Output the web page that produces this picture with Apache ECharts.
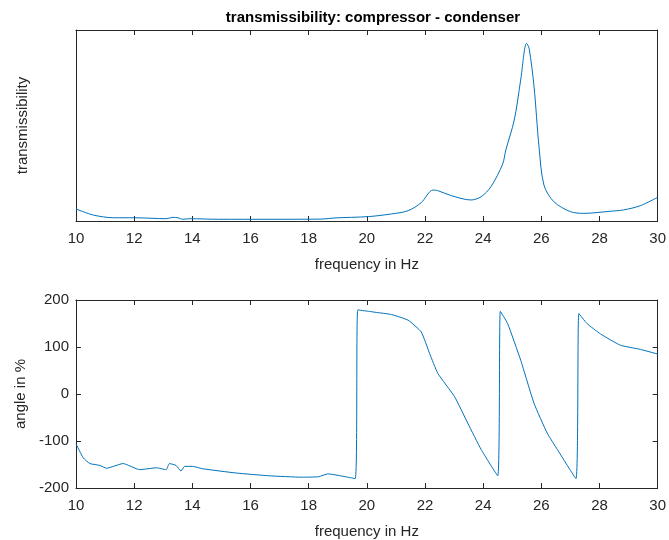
<!DOCTYPE html>
<html>
<head>
<meta charset="utf-8">
<script src="https://cdn.jsdelivr.net/npm/echarts@6/dist/echarts.min.js"></script>
<style>
  html, body { margin: 0; padding: 0; background: #fff; }
  #chart { width: 669px; height: 540px; }
</style>
</head>
<body>
<div id="chart"></div>
<script>
// frequency axis ticks
var freqTicks = [10, 12, 14, 16, 18, 20, 22, 24, 26, 28, 30];
var angleTicks = [-200, -100, 0, 100, 200];

// top: transmissibility (arbitrary units, no y labels)
var freqTop = [10, 10.6, 11.3, 12.0, 13.1, 13.33, 13.5, 13.67, 13.9, 14.9, 16.6, 18.45, 18.9, 20.05,
  20.85, 21.42, 21.87, 22.27, 22.44, 22.9, 23.58, 23.93, 24.27, 24.67, 24.78, 25.07, 25.29, 25.49,
  25.58, 25.75, 25.92, 26.09, 26.43, 27.0, 27.46, 28.37, 28.83, 29.4, 30];
var transTop = [6.3, 3.1, 1.7, 1.7, 1.2, 1.9, 1.7, 0.9, 1.2, 0.9, 0.9, 1.0, 1.6, 2.3,
  3.7, 5.4, 9.6, 16.2, 15.9, 13.3, 11.0, 12.7, 18.0, 29.8, 37.2, 52.9, 73.8, 93.0,
  90.4, 70.3, 38.9, 18.8, 10.1, 4.9, 4.0, 5.1, 5.8, 8.0, 12.4];

// bottom: angle
var freqBot = [10, 10.25, 10.48, 10.82, 11.05, 11.62, 12.19, 12.76, 13.1, 13.21, 13.44, 13.61, 13.73,
  14.01, 14.35, 15.49, 16.63, 17.77, 18.34, 18.66, 19.6, 19.69, 20.05, 20.28, 20.85, 21.42, 21.87,
  22.16, 22.44, 23.02, 23.47, 23.93, 24.5, 24.59, 24.84, 25.29, 25.75, 26.2, 26.55, 27.19, 27.29,
  27.57, 28.03, 28.71, 29.4, 30];
var angleBot = [-106, -136, -148, -152, -158, -148, -161, -157, -161, -148, -152, -164, -154,
  -154, -159, -168, -174, -177, -176, -170, -180, 179, 176, 174, 169, 157, 132,
  86, 44, -6, -62, -118, -174, 176, 150, 72, -20, -83, -118, -180, 171,
  150, 128, 104, 95, 85];

function pairs(xs, ys) {
  return xs.map(function (x, i) { return [x, ys[i]]; });
}

var axisCol = '#262626';
var lineCol = '#0072BD';
var fontFam = 'Liberation Sans, Arial, sans-serif';

function xAx(gi, withLabels) {
  return {
    type: 'value', gridIndex: gi, min: 10, max: 30, interval: 2,
    position: withLabels ? 'bottom' : 'top',
    name: withLabels ? 'frequency in Hz' : '',
    nameLocation: 'middle', nameGap: 36,
    nameTextStyle: { color: axisCol, fontSize: 15, fontFamily: fontFam },
    axisLine: { show: true, onZero: false, lineStyle: { color: axisCol, width: 1 } },
    axisTick: { show: true, inside: true, length: 5, lineStyle: { color: axisCol } },
    axisLabel: { show: withLabels, color: axisCol, fontSize: 15, margin: 10, fontFamily: fontFam },
    splitLine: { show: false }
  };
}

function yAx(gi, left, opts) {
  var ax = {
    type: 'value', gridIndex: gi, position: left ? 'left' : 'right',
    axisLine: { show: true, onZero: false, lineStyle: { color: axisCol } },
    axisTick: { show: false },
    axisLabel: { show: false },
    splitLine: { show: false }
  };
  for (var k in opts) ax[k] = opts[k];
  return ax;
}

var yTicks = { show: true, inside: true, length: 5, lineStyle: { color: axisCol } };
var yName = { color: axisCol, fontSize: 15, fontFamily: fontFam };

var option = {
  animation: false,
  backgroundColor: '#fff',
  title: {
    text: 'transmissibility: compressor - condenser',
    left: 368, top: 5, textAlign: 'center',
    textStyle: { color: '#000', fontSize: 15, fontWeight: 'bold', fontFamily: fontFam }
  },
  grid: [
    { left: 76, right: 8, top: 30, height: 191 },
    { left: 76, right: 8, top: 300, height: 189 }
  ],
  xAxis: [xAx(0, true), xAx(0, false), xAx(1, true), xAx(1, false)],
  yAxis: [
    yAx(0, true, { min: 0, max: 100, name: 'transmissibility', nameLocation: 'middle', nameGap: 46, nameTextStyle: yName }),
    yAx(0, false, { min: 0, max: 100 }),
    yAx(1, true, {
      min: -200, max: 200, interval: 100, name: 'angle in %', nameLocation: 'middle', nameGap: 36,
      nameTextStyle: yName, axisTick: yTicks,
      axisLabel: { color: axisCol, fontSize: 15, margin: 7, fontFamily: fontFam }
    }),
    yAx(1, false, { min: -200, max: 200, interval: 100, axisTick: yTicks })
  ],
  series: [
    {
      type: 'line', xAxisIndex: 0, yAxisIndex: 0, data: pairs(freqTop, transTop),
      showSymbol: false, smooth: 0.3, lineStyle: { color: lineCol, width: 1 }
    },
    {
      type: 'line', xAxisIndex: 2, yAxisIndex: 2, data: pairs(freqBot, angleBot),
      showSymbol: false, smooth: 0.15, lineStyle: { color: lineCol, width: 1 }
    }
  ]
};

var chart = echarts.init(document.getElementById('chart'), null, { renderer: 'canvas' });
chart.setOption(option);
</script>
</body>
</html>
